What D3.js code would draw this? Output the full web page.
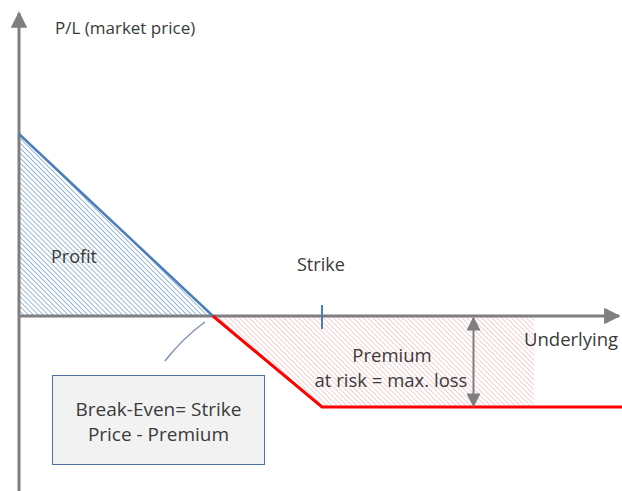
<!DOCTYPE html>
<html>
<head>
<meta charset="utf-8">
<script src="https://cdn.jsdelivr.net/npm/d3@7"></script>
<style>
  body { margin: 0; background: #fff; }
  svg { display: block; }
  text { font-family: "Open Sans", "Noto Sans", sans-serif; fill: #3a3a3a; }
</style>
</head>
<body>
<div id="container"></div>
<script>
// long put payoff, conceptual values
const strike = 50;
const premium = 18;
const breakEven = strike - premium;
const profitPts = [{ u: 0, pl: 36 }, { u: breakEven, pl: 0 }];
const lossPts = [{ u: breakEven, pl: 0 }, { u: strike, pl: -premium }, { u: 100, pl: -premium }];
const riskZone = [{ u: breakEven, top: 0, bot: 0 }, { u: strike, top: 0, bot: -premium }, { u: 85, top: 0, bot: -premium }];
const arrowAt = 75;
const labels = {
    yAxis: 'P/L (market price)',
    xAxis: 'Underlying',
    strike: 'Strike',
    profit: 'Profit',
    premium: ['Premium', 'at risk = max. loss'],
    breakEven: ['Break-Even= Strike', 'Price - Premium']
};

const W = 622, H = 491;

const svg = d3.select('#container')
    .append('svg')
    .attr('width', W)
    .attr('height', H);

const x = d3.scaleLinear().domain([0, 100]).range([19, 625]);
const y = d3.scaleLinear().domain([0, -premium]).range([316, 407]);

const defs = svg.append('defs');
const hatch = (id, color, w) => {
    const p = defs.append('pattern')
        .attr('id', id)
        .attr('patternUnits', 'userSpaceOnUse')
        .attr('width', 3.5).attr('height', 3.5)
        .attr('patternTransform', 'rotate(-45)');
    p.append('line')
        .attr('x1', 0).attr('y1', 0).attr('x2', 0).attr('y2', 3.5)
        .attr('stroke', color).attr('stroke-width', w);
};
hatch('blueHatch', '#4a7ebb', 1.1);
hatch('redHatch', '#eea0a0', 1);

defs.append('marker')
    .attr('id', 'axisArrow')
    .attr('viewBox', '0 0 10 10')
    .attr('refX', 9).attr('refY', 5)
    .attr('markerWidth', 5.5).attr('markerHeight', 5.5)
    .attr('markerUnits', 'strokeWidth')
    .attr('orient', 'auto-start-reverse')
    .append('path')
    .attr('d', 'M0,0L10,5L0,10Z')
    .attr('fill', '#7f7f7f');

defs.append('marker')
    .attr('id', 'dimArrow')
    .attr('viewBox', '0 0 10 10')
    .attr('refX', 9).attr('refY', 5)
    .attr('markerWidth', 7.5).attr('markerHeight', 7)
    .attr('markerUnits', 'strokeWidth')
    .attr('orient', 'auto-start-reverse')
    .append('path')
    .attr('d', 'M0,0L10,5L0,10Z')
    .attr('fill', '#7f7f7f');

// fills
svg.append('path')
    .datum(profitPts)
    .attr('d', d3.area().x(d => x(d.u)).y0(y(0)).y1(d => y(d.pl)))
    .attr('fill', 'url(#blueHatch)');

svg.append('path')
    .datum(riskZone)
    .attr('d', d3.area().x(d => x(d.u)).y0(d => y(d.top)).y1(d => y(d.bot)))
    .attr('fill', 'url(#redHatch)');

// axes
svg.append('line')
    .attr('x1', x(0)).attr('y1', y(0))
    .attr('x2', 619).attr('y2', y(0))
    .attr('stroke', '#7f7f7f').attr('stroke-width', 3)
    .attr('marker-end', 'url(#axisArrow)');

svg.append('line')
    .attr('x1', x(0)).attr('y1', H)
    .attr('x2', x(0)).attr('y2', 13)
    .attr('stroke', '#7f7f7f').attr('stroke-width', 3)
    .attr('marker-end', 'url(#axisArrow)');

// payoff lines
const line = d3.line().x(d => x(d.u)).y(d => y(d.pl));
svg.append('path')
    .datum(profitPts)
    .attr('d', line)
    .attr('fill', 'none')
    .attr('stroke', '#4a7ebb')
    .attr('stroke-width', 2.5);

svg.append('path')
    .datum(lossPts)
    .attr('d', line)
    .attr('fill', 'none')
    .attr('stroke', '#ff0000')
    .attr('stroke-width', 3);

// strike tick
svg.append('line')
    .attr('x1', x(strike)).attr('x2', x(strike))
    .attr('y1', y(0) - 11).attr('y2', y(0) + 13)
    .attr('stroke', '#4a7ebb').attr('stroke-width', 2);

// max loss dimension arrow
svg.append('line')
    .attr('x1', x(arrowAt)).attr('x2', x(arrowAt))
    .attr('y1', y(0) + 2).attr('y2', y(-premium) - 1)
    .attr('stroke', '#7f7f7f').attr('stroke-width', 2)
    .attr('marker-start', 'url(#dimArrow)')
    .attr('marker-end', 'url(#dimArrow)');

// leader line to break-even
const be = x(breakEven);
svg.append('path')
    .attr('d', `M${be - 8},${y(0) + 6} Q${be - 30},${y(0) + 22} ${be - 48},${y(0) + 45}`)
    .attr('fill', 'none')
    .attr('stroke', '#7f93b5')
    .attr('stroke-width', 1.5);

// break-even box
svg.append('rect')
    .attr('x', 52.5).attr('y', 375.5)
    .attr('width', 212).attr('height', 89)
    .attr('fill', '#f2f2f2')
    .attr('stroke', '#4f6fa0')
    .attr('stroke-width', 1);

const boxText = svg.append('text')
    .attr('text-anchor', 'middle')
    .attr('font-size', 19);
labels.breakEven.forEach((t, i) => {
    boxText.append('tspan').attr('x', 158.5).attr('y', 416 + i * 25).text(t);
});

// labels
svg.append('text').attr('x', 55).attr('y', 34).attr('font-size', 17).text(labels.yAxis);
svg.append('text').attr('x', 51).attr('y', 263).attr('font-size', 18).text(labels.profit);
svg.append('text').attr('x', 297).attr('y', 271).attr('font-size', 18).text(labels.strike);
svg.append('text').attr('x', 524).attr('y', 346).attr('font-size', 18.5).text(labels.xAxis);

const premText = svg.append('text')
    .attr('text-anchor', 'middle')
    .attr('font-size', 18.5);
premText.append('tspan').attr('x', 392).attr('y', 362).text(labels.premium[0]);
premText.append('tspan').attr('x', 391).attr('y', 387).text(labels.premium[1]);
</script>
</body>
</html>
